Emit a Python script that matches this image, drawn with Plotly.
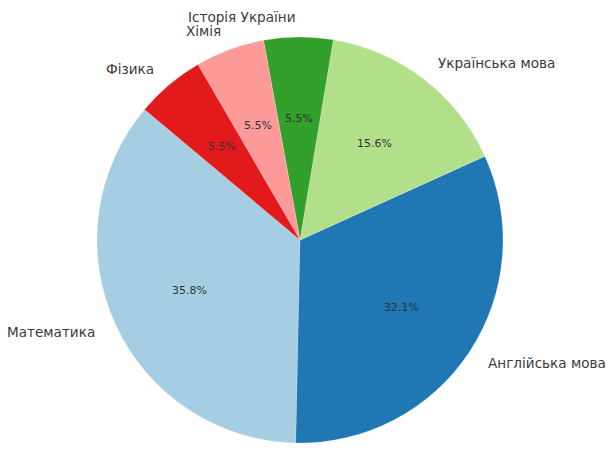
import math
import plotly.graph_objects as go

subjects = ["Математика", "Англійська мова", "Українська мова", "Історія України", "Хімія", "Фізика"]
counts = [39, 35, 17, 6, 6, 6]
colors = ["#a6cee3", "#1f78b4", "#b2df8a", "#33a02c", "#fb9a99", "#e31a1c"]

W, H = 611, 452
CX, CY, R = 300, 240, 203
START = 140  # degrees, counterclockwise from east

total = sum(counts)
first_span = 360 * counts[0] / total

fig = go.Figure(go.Pie(
    labels=subjects, values=counts, sort=False,
    direction="counterclockwise", rotation=90 - (START + first_span),
    marker=dict(colors=colors, line=dict(color="rgba(255,255,255,0.4)", width=0.5)),
    textinfo="none", hoverinfo="label+percent", showlegend=False,
    domain=dict(x=[(CX - R) / W, (CX + R) / W], y=[(H - CY - R) / H, (H - CY + R) / H]),
))

ann = []
a0 = START
for s, c in zip(subjects, counts):
    span = 360 * c / total
    mid = math.radians(a0 + span / 2)
    a0 += span
    lx = CX + 1.1 * R * math.cos(mid)
    ly = CY - 1.1 * R * math.sin(mid)
    ann.append(dict(x=lx / W, y=1 - ly / H, xref="paper", yref="paper", text=s, showarrow=False,
                    xanchor="left" if math.cos(mid) > 0 else "right", yanchor="middle",
                    font=dict(family="DejaVu Sans", size=13.6, color="#3a3a3a")))
    px = CX + 0.6 * R * math.cos(mid)
    py = CY - 0.6 * R * math.sin(mid)
    ann.append(dict(x=px / W, y=1 - py / H, xref="paper", yref="paper",
                    text=f"{100 * c / total:.1f}%", showarrow=False,
                    xanchor="center", yanchor="middle",
                    font=dict(family="DejaVu Sans", size=11, color="#333333")))

fig.update_layout(width=W, height=H, margin=dict(l=0, r=0, t=0, b=0),
                  paper_bgcolor="white", plot_bgcolor="white", annotations=ann)
fig.write_html("out.html", config={"displayModeBar": False})
